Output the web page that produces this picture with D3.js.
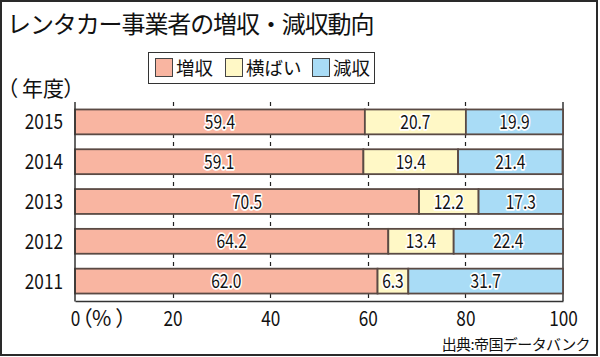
<!DOCTYPE html>
<html><head><meta charset="utf-8">
<script src="https://cdn.jsdelivr.net/npm/d3@7"></script>
<style>
html,body{margin:0;padding:0;background:#fff;}
svg{display:block;}
.jp{font-family:"Noto Sans CJK JP","Noto Sans",sans-serif;}
.palt{font-feature-settings:"palt" 1;}
</style>
</head><body>
<script>
const years = ["2015","2014","2013","2012","2011"];
const seriesNames = ["増収","横ばい","減収"];
const increase = [59.4, 59.1, 70.5, 64.2, 62.0];
const flat = [20.7, 19.4, 12.2, 13.4, 6.3];
const decrease = [19.9, 21.4, 17.3, 22.4, 31.7];
const xTicks = [0, 20, 40, 60, 80, 100];
const colors = ["#f9b5a1", "#fff8c6", "#a9dcf6"];
const titleText = "レンタカー事業者の増収・減収動向";
const yearUnitParts = ["（", "年度", "）"];
const pctUnitParts = ["（", "%", "）"];
const sourceText = "出典:帝国データバンク";

const W = 600, H = 357;
const SX = 0.82; // horizontal condensing for digits
const NUMFONT = "Noto Sans CJK JP, Noto Sans, sans-serif";
const svg = d3.select("body").append("svg").attr("width", W).attr("height", H);

// outer frame
svg.append("rect").attr("x",1).attr("y",1).attr("width",596).attr("height",354)
  .attr("fill","#fff").attr("stroke","#2a2a2a").attr("stroke-width",2);

// title
svg.append("text").attr("class","jp").attr("x",7).attr("y",33)
  .attr("font-size",24).attr("letter-spacing",-1.1).attr("fill","#111").text(titleText);

// legend
const lg = svg.append("g");
lg.append("rect").attr("x",148.5).attr("y",52.5).attr("width",226).attr("height",31)
  .attr("fill","#fff").attr("stroke","#333").attr("stroke-width",1);
const legendX = [155, 225, 312];
seriesNames.forEach((n,i)=>{
  lg.append("rect").attr("x",legendX[i]+0.5).attr("y",58.5).attr("width",17).attr("height",18)
    .attr("fill",colors[i]).attr("stroke","#444").attr("stroke-width",1);
  lg.append("text").attr("class","jp").attr("x",legendX[i]+21).attr("y",75)
    .attr("font-size",18.5).attr("fill","#111").text(n);
});

// year unit
const yu = svg.append("text").attr("class","jp palt").attr("y",96).attr("font-size",21).attr("fill","#111");
const yuX = [7, 22, 64];
yearUnitParts.forEach((p,i)=>yu.append("tspan").attr("x",yuX[i]).text(p));

const x = d3.scaleLinear().domain([0,100]).range([75,563]);
const y = d3.scaleBand().domain(years).range([102,301]).paddingInner(0.375).paddingOuter(0.1875);

// dashed gridlines
svg.append("g").selectAll("line").data(xTicks.filter(t=>t>0&&t<100)).join("line")
  .attr("x1",d=>Math.round(x(d))+0.5).attr("x2",d=>Math.round(x(d))+0.5)
  .attr("y1",102).attr("y2",301)
  .attr("stroke","#222").attr("stroke-width",1.2).attr("stroke-dasharray","4,4");

// right solid line at 100
svg.append("line").attr("x1",x(100)).attr("x2",x(100)).attr("y1",102).attr("y2",301)
  .attr("stroke","#333").attr("stroke-width",1.5);

// stacked data
const rows = years.map((yr,i)=>({year:yr, v:[increase[i], flat[i], decrease[i]]}));
const segs = [];
rows.forEach(r=>{
  let acc = 0;
  r.v.forEach((val,k)=>{ segs.push({year:r.year, k, x0:acc, x1:acc+val, val}); acc+=val; });
});
const bars = svg.append("g");
bars.selectAll("rect").data(segs).join("rect")
  .attr("x",d=>x(d.x0)).attr("width",d=>x(d.x1)-x(d.x0))
  .attr("y",d=>y(d.year)).attr("height",y.bandwidth())
  .attr("fill",d=>colors[d.k]).attr("stroke","#5a4a44").attr("stroke-width",1.8);

// labels with white halo
const lab = svg.append("g").attr("font-family",NUMFONT).attr("font-size",19).attr("text-anchor","middle");
const lg2 = lab.selectAll("g").data(segs).join("g")
  .attr("transform",d=>`translate(${x((d.x0+d.x1)/2)},${y(d.year)+y.bandwidth()/2+7}) scale(${SX},1)`);
lg2.append("text").attr("fill","none").attr("stroke","#fff").attr("stroke-width",3.5)
  .attr("stroke-linejoin","round").text(d=>d.val.toFixed(1));
lg2.append("text").attr("fill","#111").text(d=>d.val.toFixed(1));

// axes
const xAxis = svg.append("g").attr("transform","translate(0,301)")
  .call(d3.axisBottom(x).tickValues(xTicks).tickSize(0).tickPadding(10).tickFormat(d3.format("d")));
xAxis.select(".domain").attr("stroke","#333").attr("stroke-width",1.5);
xAxis.selectAll("text").attr("font-size",21).attr("fill","#111")
  .attr("font-family",NUMFONT).attr("transform",`scale(${SX},1)`);
const pu = svg.append("text").attr("class","jp palt").attr("y",326).attr("font-size",21).attr("fill","#111");
const puX = [81.5, 92, 116];
pctUnitParts.forEach((p,i)=>pu.append("tspan").attr("x",puX[i]).text(p));

const yAxis = svg.append("g").attr("transform","translate(75,0)")
  .call(d3.axisLeft(y).tickSize(0).tickPadding(12));
yAxis.select(".domain").remove();
yAxis.selectAll("text").attr("font-size",21).attr("fill","#111")
  .attr("font-family",NUMFONT).attr("dy","0.36em")
  .attr("x",-12/SX).attr("transform",`scale(${SX},1)`);
svg.append("line").attr("x1",75).attr("x2",75).attr("y1",102).attr("y2",301.5)
  .attr("stroke","#333").attr("stroke-width",1.5);

// source
svg.append("text").attr("class","jp").attr("x",590).attr("y",350).attr("text-anchor","end")
  .attr("font-size",15).attr("letter-spacing",-0.6).attr("fill","#111").text(sourceText);
</script>
</body></html>
